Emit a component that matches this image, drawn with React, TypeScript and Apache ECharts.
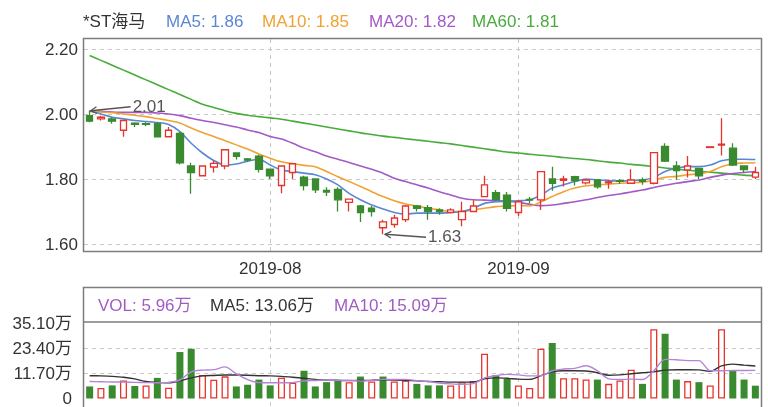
import React, { useEffect, useRef } from 'react';
import * as echarts from 'echarts';

const dates = [
  '2019-07-10', '2019-07-11', '2019-07-12', '2019-07-15', '2019-07-16', '2019-07-17', '2019-07-18', '2019-07-19',
  '2019-07-22', '2019-07-23', '2019-07-24', '2019-07-25', '2019-07-26', '2019-07-29', '2019-07-30', '2019-07-31',
  '2019-08-01', '2019-08-02', '2019-08-05', '2019-08-06', '2019-08-07', '2019-08-08', '2019-08-09', '2019-08-12',
  '2019-08-13', '2019-08-14', '2019-08-15', '2019-08-16', '2019-08-19', '2019-08-20', '2019-08-21', '2019-08-22',
  '2019-08-23', '2019-08-26', '2019-08-27', '2019-08-28', '2019-08-29', '2019-08-30',
  '2019-09-02', '2019-09-03', '2019-09-04', '2019-09-05', '2019-09-06', '2019-09-09', '2019-09-10', '2019-09-11',
  '2019-09-12', '2019-09-16', '2019-09-17', '2019-09-18', '2019-09-19', '2019-09-20', '2019-09-23', '2019-09-24',
  '2019-09-25', '2019-09-26', '2019-09-27', '2019-09-30', '2019-10-08', '2019-10-09',
];

// dates that carry a month tick label / vertical grid line
const monthTicks = ['2019-08-01', '2019-09-02'];

const opens = [
  1.995, 1.985, 1.985, 1.95, 1.972, 1.97, 1.97, 1.93, 1.94, 1.84,
  1.81, 1.837, 1.84, 1.88, 1.862, 1.87, 1.83, 1.78, 1.82, 1.806,
  1.80, 1.765, 1.768, 1.728, 1.717, 1.71, 1.65, 1.66, 1.675, 1.717,
  1.712, 1.705, 1.697, 1.675, 1.70, 1.746, 1.758, 1.75, 1.697, 1.737,
  1.736, 1.80, 1.796, 1.807, 1.788, 1.797, 1.788, 1.795, 1.787, 1.797,
  1.787, 1.90, 1.84, 1.828, 1.833, 1.897, 1.904, 1.895, 1.84, 1.806,
];
const closes = [
  1.978, 1.99, 1.978, 1.98, 1.968, 1.968, 1.93, 1.95, 1.85, 1.82,
  1.84, 1.848, 1.89, 1.87, 1.858, 1.83, 1.81, 1.84, 1.847, 1.78,
  1.767, 1.76, 1.736, 1.738, 1.697, 1.70, 1.668, 1.68, 1.717, 1.71,
  1.70, 1.70, 1.705, 1.70, 1.717, 1.782, 1.737, 1.71, 1.73, 1.735,
  1.823, 1.787, 1.80, 1.795, 1.797, 1.776, 1.791, 1.793, 1.797, 1.793,
  1.881, 1.855, 1.826, 1.84, 1.81, 1.899, 1.907, 1.843, 1.829, 1.82,
];
const lows = [
  1.975, 1.98, 1.97, 1.93, 1.96, 1.962, 1.93, 1.93, 1.845, 1.755,
  1.81, 1.82, 1.83, 1.86, 1.852, 1.82, 1.80, 1.756, 1.80, 1.765,
  1.757, 1.748, 1.70, 1.70, 1.668, 1.685, 1.63, 1.65, 1.668, 1.70,
  1.675, 1.69, 1.695, 1.655, 1.70, 1.745, 1.733, 1.70, 1.686, 1.725,
  1.705, 1.764, 1.777, 1.78, 1.783, 1.77, 1.77, 1.785, 1.785, 1.782,
  1.783, 1.852, 1.797, 1.805, 1.80, 1.897, 1.872, 1.84, 1.82, 1.80,
];
const highs = [
  2.01, 1.995, 1.99, 1.98, 1.975, 1.975, 1.975, 1.96, 1.945, 1.85,
  1.84, 1.857, 1.89, 1.88, 1.865, 1.875, 1.83, 1.84, 1.85, 1.81,
  1.80, 1.775, 1.775, 1.74, 1.72, 1.717, 1.675, 1.69, 1.72, 1.72,
  1.72, 1.71, 1.71, 1.73, 1.735, 1.81, 1.766, 1.76, 1.735, 1.745,
  1.825, 1.838, 1.81, 1.81, 1.80, 1.80, 1.798, 1.80, 1.83, 1.805,
  1.883, 1.91, 1.855, 1.871, 1.835, 1.899, 1.987, 1.91, 1.842, 1.838,
];

const ma5 = [
  2.01, 2.0, 1.99, 1.985, 1.98, 1.977, 1.974, 1.968, 1.946, 1.91,
  1.88, 1.857, 1.843, 1.846, 1.855, 1.861, 1.843, 1.828, 1.823, 1.818,
  1.813, 1.80, 1.782, 1.756, 1.736, 1.72, 1.708, 1.697, 1.692, 1.695,
  1.695, 1.695, 1.697, 1.70, 1.71, 1.725, 1.73, 1.732, 1.733, 1.736,
  1.751, 1.772, 1.782, 1.792, 1.80, 1.797, 1.795, 1.794, 1.795, 1.797,
  1.805, 1.823, 1.833, 1.838, 1.838, 1.843, 1.856, 1.861, 1.861, 1.86,
];
const ma10 = [
  2.008, 2.006, 2.004, 2.0, 1.996, 1.992, 1.986, 1.98, 1.972, 1.957,
  1.943, 1.931, 1.918, 1.905, 1.892, 1.877, 1.864, 1.853, 1.847, 1.842,
  1.838, 1.823, 1.807, 1.792, 1.777, 1.761, 1.746, 1.733, 1.723, 1.717,
  1.71, 1.705, 1.70, 1.70, 1.705, 1.71, 1.715, 1.717, 1.718, 1.717,
  1.73, 1.746, 1.761, 1.772, 1.779, 1.782, 1.784, 1.787, 1.788, 1.79,
  1.797, 1.805, 1.808, 1.813, 1.816, 1.823, 1.838, 1.847, 1.849, 1.85,
];
const ma20 = [
  2.01, 2.008, 2.006, 2.005, 2.005, 2.005, 2.003, 2.0, 1.995, 1.987,
  1.98, 1.974, 1.967, 1.96, 1.951, 1.943, 1.931, 1.923, 1.91, 1.895,
  1.884, 1.871, 1.861, 1.851, 1.84, 1.83, 1.818, 1.802, 1.792, 1.782,
  1.772, 1.761, 1.751, 1.741, 1.736, 1.735, 1.734, 1.732, 1.728, 1.722,
  1.718, 1.72, 1.725, 1.73, 1.736, 1.743, 1.749, 1.754, 1.76, 1.766,
  1.774, 1.781, 1.787, 1.792, 1.797, 1.805, 1.812, 1.817, 1.82, 1.823,
];
const ma60 = [
  2.18, 2.165, 2.15, 2.135, 2.12, 2.105, 2.09, 2.075, 2.06, 2.045,
  2.03, 2.02, 2.01, 2.002, 1.996, 1.992, 1.988, 1.984, 1.978, 1.972,
  1.966, 1.96, 1.954, 1.948, 1.942, 1.937, 1.932, 1.928, 1.924, 1.92,
  1.916, 1.912, 1.908, 1.903, 1.898, 1.893, 1.888, 1.883, 1.88, 1.876,
  1.873, 1.87, 1.866, 1.863, 1.86, 1.856, 1.852, 1.849, 1.845, 1.842,
  1.838, 1.834, 1.83, 1.827, 1.824, 1.821, 1.818, 1.815, 1.812, 1.81,
];

// volume in 万
const volumes = [
  5.6, 4.9, 6.1, 8.4, 5.8, 6.1, 9.6, 5.0, 21.6, 23.1,
  10.9, 8.7, 10.3, 5.6, 6.4, 8.8, 6.1, 9.7, 7.3, 12.9,
  5.6, 7.6, 8.8, 7.6, 10.2, 7.9, 10.2, 7.9, 8.4, 6.8,
  6.1, 6.1, 6.1, 7.6, 8.1, 20.8, 10.9, 9.1, 6.1, 4.9,
  23.1, 25.8, 9.4, 9.4, 8.8, 8.8, 6.8, 8.4, 13.4, 6.8,
  32.2, 30.1, 8.8, 8.1, 7.6, 6.1, 32.2, 12.9, 8.8, 5.96,
];
const volUp = [
  0, 1, 0, 1, 0, 1, 0, 1, 0, 0,
  1, 1, 1, 0, 0, 0, 0, 1, 1, 0,
  0, 0, 0, 1, 0, 1, 0, 1, 1, 0,
  0, 0, 1, 1, 1, 1, 0, 0, 1, 1,
  1, 0, 1, 1, 1, 0, 1, 1, 1, 0,
  1, 0, 0, 1, 0, 1, 1, 0, 0, 0,
];
const volMA5 = [
  7.9, 7.8, 7.7, 7.6, 7.5, 7.4, 7.3, 7.5, 8.6, 12.4,
  13.2, 13.4, 14.7, 11.4, 8.8, 7.4, 7.3, 7.3, 7.4, 8.2,
  8.4, 8.6, 8.4, 8.5, 8.1, 8.4, 8.9, 8.8, 8.9, 8.3,
  7.9, 7.2, 6.8, 6.6, 6.9, 9.6, 10.6, 11.2, 11.0, 10.5,
  10.6, 12.9, 13.7, 14.0, 15.2, 12.9, 9.1, 8.8, 9.0, 8.8,
  12.9, 18.2, 18.0, 17.6, 17.6, 12.9, 12.9, 13.0, 13.0, 13.06,
];
const volMA10 = [
  10.6, 10.5, 10.3, 9.9, 9.1, 7.9, 7.5, 7.3, 8.2, 9.6,
  10.5, 10.7, 10.9, 10.9, 10.8, 10.6, 10.5, 10.3, 9.9, 9.4,
  8.9, 8.6, 8.4, 8.3, 8.4, 8.5, 8.7, 8.6, 8.4, 8.2,
  7.9, 7.8, 7.6, 7.6, 7.7, 9.1, 9.6, 9.4, 9.0, 8.9,
  10.6, 12.4, 12.9, 12.9, 12.8, 12.0, 10.8, 11.0, 11.5, 12.0,
  12.4, 13.2, 13.4, 13.4, 13.3, 12.6, 15.2, 16.0, 15.5, 15.09,
];

const stockName = '*ST海马';
const priceAxis = { min: 1.6, max: 2.2, step: 0.2 };
const volAxis = { min: 0, max: 35.1, step: 11.7 };

const FONT = "'Liberation Sans', Arial, 'Noto Sans CJK SC', sans-serif";
const UP = '#e5342c';
const DOWN = '#3a8a30';
const C_MA5 = '#5b86d4';
const C_MA10 = '#f0a232';
const C_MA20 = '#a359c6';
const C_MA60 = '#4aab3d';
const C_VMA5 = '#b583d8';
const C_VMA10 = '#333333';
const C_VOLTXT = '#a05cc4';
const FRAME = '#7d7d7d';
const GRIDLINE = '#c8c8c8';

export default function App() {
  const ref = useRef<HTMLDivElement>(null);
  useEffect(() => {
    const chart = echarts.init(ref.current!, null, { renderer: 'svg' });
    const n = dates.length;
    const L = 84;
    const R = 761;
    const W = 768;
    const half = (R - L) / n / 2;
    const isMonthTick = (i: number) => monthTicks.includes(dates[i]);
    const last = n - 1;

    const lineSeries = (name: string, data: number[], color: string, xi: number, yi: number, width = 1.6) => ({
      name,
      type: 'line',
      xAxisIndex: xi,
      yAxisIndex: yi,
      data,
      smooth: 0.3,
      symbol: 'none',
      lineStyle: { color, width },
      z: 3,
    });

    const frameX = (gi: number, showLabel: boolean) => ({
      type: 'category',
      gridIndex: gi,
      data: dates,
      boundaryGap: false,
      axisLine: { show: false },
      axisTick: { show: false },
      axisLabel: {
        show: showLabel,
        interval: (i: number) => isMonthTick(i),
        formatter: (v: string) => v.slice(0, 7),
        color: '#333',
        fontSize: 17,
        fontFamily: FONT,
        margin: 9,
      },
      splitLine: {
        show: true,
        interval: (i: number) => isMonthTick(i),
        lineStyle: { color: GRIDLINE, type: [4, 4], width: 1 },
      },
    });
    const hiddenY = (gi: number) => ({ type: 'value', gridIndex: gi, min: 0, max: 1, show: false });
    const hiddenX = (gi: number) => ({ type: 'category', gridIndex: gi, data: dates, boundaryGap: true, show: false });

    const option: any = {
      animation: false,
      textStyle: { fontFamily: FONT },
      grid: [
        { left: L + half, right: W - R + half, top: 39, height: 212 },
        { left: L, right: W - R, top: 49, height: 195 },
        { left: L + half, right: W - R + half, top: 322, height: 100 },
        { left: L, right: W - R, top: 323, height: 77 },
      ],
      xAxis: [frameX(0, true), hiddenX(1), frameX(2, false), hiddenX(3)],
      yAxis: [
        hiddenY(0),
        {
          type: 'value',
          gridIndex: 1,
          min: priceAxis.min,
          max: priceAxis.max,
          interval: priceAxis.step,
          axisLine: { show: false },
          axisTick: { show: false },
          axisLabel: { formatter: (v: number) => v.toFixed(2), color: '#333', fontSize: 17, fontFamily: FONT, margin: 6 },
          splitLine: { show: true, lineStyle: { color: GRIDLINE, type: [4, 4] } },
        },
        hiddenY(2),
        {
          type: 'value',
          gridIndex: 3,
          min: volAxis.min,
          max: volAxis.max,
          interval: volAxis.step,
          axisLine: { show: false },
          axisTick: { show: false },
          axisLabel: {
            formatter: (v: number) => (v === 0 ? '0' : v.toFixed(2) + '万'),
            color: '#333',
            fontSize: 17,
            fontFamily: FONT,
            margin: 12,
          },
          splitLine: { show: true, showMinLine: false, showMaxLine: false, lineStyle: { color: GRIDLINE, type: [4, 4] } },
        },
      ],
      series: [
        {
          name: 'K',
          type: 'candlestick',
          xAxisIndex: 1,
          yAxisIndex: 1,
          barWidth: 7,
          data: dates.map((_, i) => [opens[i], closes[i], lows[i], highs[i]]),
          itemStyle: { color: '#ffffff', color0: DOWN, borderColor: UP, borderColor0: DOWN, borderWidth: 1.3 },
          z: 4,
        },
        lineSeries('MA60', ma60, C_MA60, 1, 1),
        lineSeries('MA20', ma20, C_MA20, 1, 1),
        lineSeries('MA10', ma10, C_MA10, 1, 1),
        lineSeries('MA5', ma5, C_MA5, 1, 1),
        {
          name: 'VOL',
          type: 'bar',
          xAxisIndex: 3,
          yAxisIndex: 3,
          barWidth: 7,
          data: volumes.map((v, i) => ({
            value: v,
            itemStyle: volUp[i]
              ? { color: '#ffffff', borderColor: UP, borderWidth: 1.3 }
              : { color: DOWN },
          })),
          z: 2,
        },
        lineSeries('VMA10', volMA10, C_VMA10, 3, 3, 1.4),
        lineSeries('VMA5', volMA5, C_VMA5, 3, 3, 1.4),
      ],
    };
    chart.setOption(option);

    // extreme annotations located through the chart's own scales
    let iMax = 0;
    let iMin = 0;
    highs.forEach((h, i) => { if (h > highs[iMax]) iMax = i; });
    lows.forEach((l, i) => { if (l < lows[iMin]) iMin = i; });
    const pMax = chart.convertToPixel({ gridIndex: 1 }, [dates[iMax], highs[iMax]]) as number[];
    const pMin = chart.convertToPixel({ gridIndex: 1 }, [dates[iMin], lows[iMin]]) as number[];

    const arrow = (tip: number[], from: number[]) => {
      const dx = from[0] - tip[0];
      const dy = from[1] - tip[1];
      const len = Math.hypot(dx, dy);
      const ux = dx / len;
      const uy = dy / len;
      const a = 0.5;
      const al = 7;
      const rot = (s: number) => [
        tip[0] + al * (ux * Math.cos(s) - uy * Math.sin(s)),
        tip[1] + al * (ux * Math.sin(s) + uy * Math.cos(s)),
      ];
      return [
        { type: 'line', z: 100, shape: { x1: from[0], y1: from[1], x2: tip[0], y2: tip[1] }, style: { stroke: '#555', lineWidth: 1.3 } },
        { type: 'polyline', z: 100, shape: { points: [rot(a), tip, rot(-a)] }, style: { stroke: '#555', fill: null, lineWidth: 1.3 } },
      ];
    };

    const txt = (x: number, y: number, text: string, fill: string) => ({
      type: 'text',
      z: 100,
      x,
      y,
      style: { text, fill, font: `17px ${FONT}`, textVerticalAlign: 'middle', verticalAlign: 'middle' },
    });

    const graphic: any[] = [
      { type: 'rect', z: 0, shape: { x: L - 0.5, y: 38.5, width: R - L + 1, height: 213 }, style: { fill: 'none', stroke: FRAME, lineWidth: 1.5 } },
      { type: 'rect', z: 0, shape: { x: L - 0.5, y: 287.5, width: R - L + 1, height: 140 }, style: { fill: 'none', stroke: FRAME, lineWidth: 1.5 } },
      { type: 'line', z: 0, shape: { x1: L - 0.5, y1: 322, x2: R + 0.5, y2: 322 }, style: { stroke: FRAME, lineWidth: 1.5 } },
      txt(83, 21, stockName, '#333'),
      txt(166, 21, `MA5: ${ma5[last].toFixed(2)}`, C_MA5),
      txt(262, 21, `MA10: ${ma10[last].toFixed(2)}`, C_MA10),
      txt(369, 21, `MA20: ${ma20[last].toFixed(2)}`, C_MA20),
      txt(472, 21, `MA60: ${ma60[last].toFixed(2)}`, C_MA60),
      txt(98, 305, `VOL: ${volumes[last].toFixed(2)}万`, C_VOLTXT),
      txt(210, 305, `MA5: ${volMA5[last].toFixed(2)}万`, '#333'),
      txt(334, 305, `MA10: ${volMA10[last].toFixed(2)}万`, C_VOLTXT),
      ...arrow([pMax[0] + 1, pMax[1]], [pMax[0] + 41, pMax[1] - 4]),
      txt(pMax[0] + 43, pMax[1] - 4, highs[iMax].toFixed(2), '#555'),
      ...arrow([pMin[0] + 2, pMin[1]], [pMin[0] + 43, pMin[1] + 3]),
      txt(pMin[0] + 45, pMin[1] + 2.5, lows[iMin].toFixed(2), '#555'),
    ];
    chart.setOption({ graphic });

    return () => chart.dispose();
  }, []);
  return <div ref={ref} style={{ position: 'fixed', left: 0, top: 0, width: 768, height: 407 }} />;
}
